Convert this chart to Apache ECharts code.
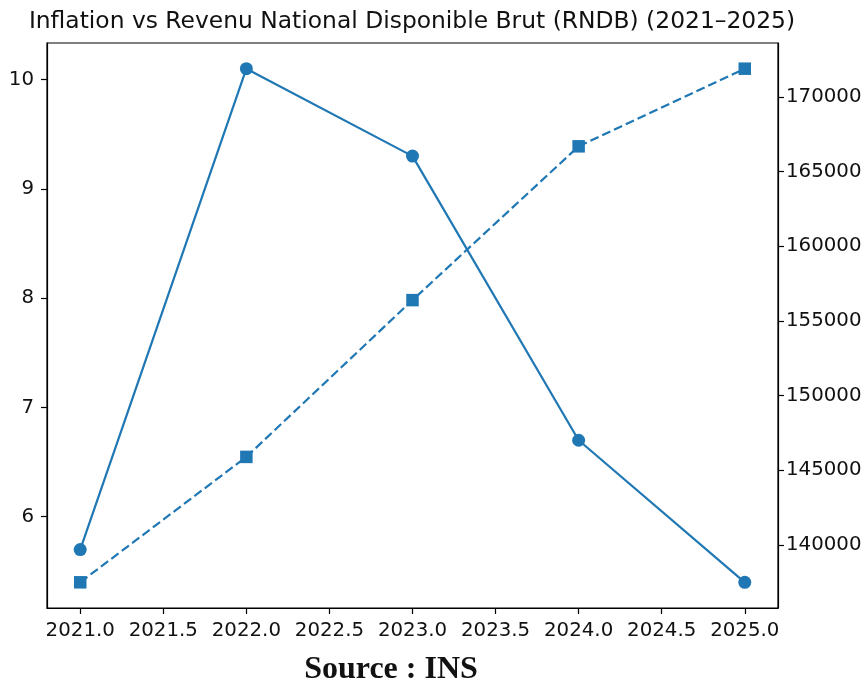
<!DOCTYPE html>
<html>
<head>
<meta charset="utf-8">
<script src="https://cdn.jsdelivr.net/npm/echarts@6/dist/echarts.min.js"></script>
<style>
  html, body { margin: 0; padding: 0; background: #fff; }
  #chart { width: 867px; height: 683px; }
</style>
</head>
<body>
<div id="chart"></div>
<script>
// Years on the x axis
const years = [2021, 2022, 2023, 2024, 2025];
// Inflation (%) — left axis
const inflation = [5.7, 10.1, 9.3, 6.7, 5.4];
// Revenu National Disponible Brut — right axis
const rndb = [137500, 145900, 156400, 166700, 171900];

// Tick labels
const xTicks = [2021, 2021.5, 2022, 2022.5, 2023, 2023.5, 2024, 2024.5, 2025];
const leftTicks = [6, 7, 8, 9, 10];
const rightTicks = [140000, 145000, 150000, 155000, 160000, 165000, 170000];

const titleText = 'Inflation vs Revenu National Disponible Brut (RNDB) (2021\u20132025)';
const sourceText = 'Source : INS';

// 5% padding around the data range on each axis
function padded(values) {
  const lo = Math.min(...values), hi = Math.max(...values);
  const m = (hi - lo) * 0.05;
  return [lo - m, hi + m];
}
const [xMin, xMax] = padded(years);
const [lMin, lMax] = padded(inflation);
const [rMin, rMax] = padded(rndb);

const blue = '#1f77b4';
const ink = '#111';
const tickFont = { color: ink, fontSize: 19.8, fontFamily: 'DejaVu Sans' };

const chart = echarts.init(document.getElementById('chart'), null, { renderer: 'canvas' });

chart.setOption({
  animation: false,
  backgroundColor: '#fff',
  grid: {
    left: 47, right: 89, top: 43, bottom: 75,
    show: true, borderColor: '#000', borderWidth: 1.2, backgroundColor: 'transparent'
  },
  xAxis: {
    type: 'value', min: xMin, max: xMax,
    axisLine: { show: true, lineStyle: { color: '#000', width: 1.2 } },
    axisTick: { show: true, length: 6, customValues: xTicks, lineStyle: { color: '#000', width: 1.2 } },
    axisLabel: Object.assign({ margin: 13, customValues: xTicks, formatter: v => v.toFixed(1) }, tickFont),
    splitLine: { show: false }
  },
  yAxis: [
    {
      type: 'value', position: 'left', min: lMin, max: lMax,
      axisLine: { show: true, lineStyle: { color: '#000', width: 1.2 } },
      axisTick: { show: true, length: 6, customValues: leftTicks, lineStyle: { color: '#000', width: 1.2 } },
      axisLabel: Object.assign({ margin: 13, customValues: leftTicks, formatter: v => String(v) }, tickFont),
      splitLine: { show: false }
    },
    {
      type: 'value', position: 'right', min: rMin, max: rMax,
      axisLine: { show: true, lineStyle: { color: '#000', width: 1.2 } },
      axisTick: { show: true, length: 6, customValues: rightTicks, lineStyle: { color: '#000', width: 1.2 } },
      axisLabel: Object.assign({ margin: 8, customValues: rightTicks, formatter: v => String(v) }, tickFont),
      splitLine: { show: false }
    }
  ],
  series: [
    {
      name: 'Inflation', type: 'line', yAxisIndex: 0,
      data: years.map((y, i) => [y, inflation[i]]),
      symbol: 'circle', symbolSize: 13,
      itemStyle: { color: blue },
      lineStyle: { color: blue, width: 2.2 }
    },
    {
      name: 'RNDB', type: 'line', yAxisIndex: 1,
      data: years.map((y, i) => [y, rndb[i]]),
      symbol: 'rect', symbolSize: 12.5,
      itemStyle: { color: blue },
      lineStyle: { color: blue, width: 2.2, type: [9, 4] }
    }
  ],
  graphic: [
    {
      type: 'text', x: 412, y: 22,
      style: {
        text: titleText, fill: ink, textAlign: 'center', textVerticalAlign: 'middle',
        font: '23.4px "DejaVu Sans"'
      }
    },
    {
      type: 'text', x: 391, y: 670,
      style: {
        text: sourceText, fill: ink, textAlign: 'center', textVerticalAlign: 'middle',
        font: 'bold 32px "Liberation Serif"'
      }
    }
  ]
});
</script>
</body>
</html>
